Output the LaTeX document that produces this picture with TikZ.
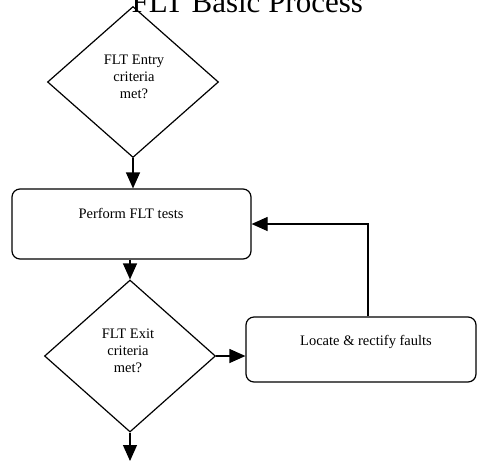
\documentclass[tikz,border=0pt]{standalone}
\usepackage{fontspec}
\setmainfont{Liberation Serif}
\usetikzlibrary{arrows.meta,shapes.geometric}
\begin{document}
\begin{tikzpicture}[x=1pt,y=-1pt,
  line width=1.2pt,
  decision/.style={draw,diamond,inner sep=0pt},
  procbox/.style={draw,rectangle,rounded corners=8pt,inner sep=0pt},
  lbl/.style={font=\fontsize{14.5}{17}\selectfont,align=center,inner sep=0pt},
  arr/.style={-{Triangle[length=16pt,width=14pt]}},
  titlestyle/.style={font=\fontsize{31}{31}\selectfont,inner sep=0pt}]
\useasboundingbox (0,0) rectangle (478,461);
\fill[white] (0,0) rectangle (478,461);
% title (cut off at top)
\node[titlestyle,anchor=base west] (title) at (131,12) {FLT Basic Process};
% nodes
\node[decision,minimum width=171pt,minimum height=151pt] (d1) at (133,82) {};
\node[lbl] (t1) at (134,77) {FLT Entry\\criteria\\met?};
\node[procbox,minimum width=239pt,minimum height=70pt] (b1) at (131.5,224) {};
\node[lbl] (t2) at (131,213) {Perform FLT tests};
\node[decision,minimum width=171pt,minimum height=152pt] (d2) at (130,356) {};
\node[lbl] (t3) at (128,351) {FLT Exit\\criteria\\met?};
\node[procbox,minimum width=230pt,minimum height=65pt] (b2) at (361,349.5) {};
\node[lbl] (t4) at (366,342) {Locate \& rectify faults};
\coordinate (end) at (130,461);
% connectors
\draw[arr] (d1.south) -- (d1.south |- b1.north);
\draw[arr] (d2.north |- b1.south) -- (d2.north);
\draw[arr] (d2.east) -- (d2.east -| b2.west);
\draw[arr] ([xshift=7pt]b2.north) |- (b1.east);
\draw[arr] (d2.south) -- (end);
\end{tikzpicture}
\end{document}
